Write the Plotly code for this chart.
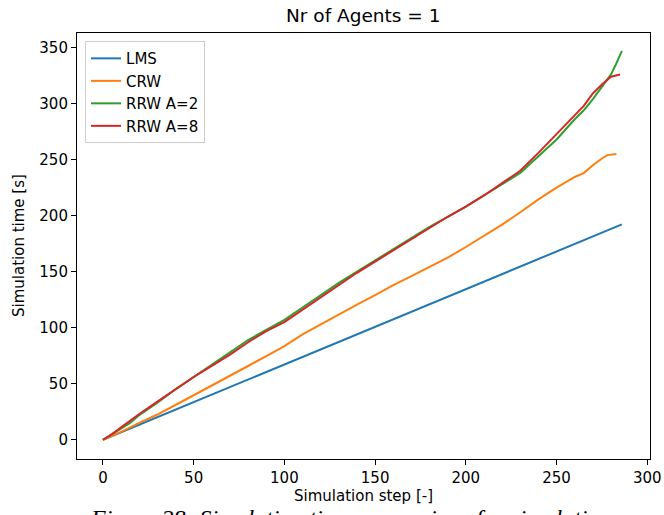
import plotly.graph_objects as go

# ---- data ----
lms_x = [0, 50, 100, 150, 200, 250, 286]
lms_y = [0, 33.6, 67.2, 100.8, 134.4, 168.0, 192.2]

crw_x = [0, 10, 20, 30, 40, 50, 60, 70, 80, 90, 100, 110, 120, 130, 140, 150, 160,
         170, 180, 190, 200, 210, 220, 230, 240, 250, 260, 265, 270, 275, 278, 283]
crw_y = [0, 7, 15, 22.5, 31, 39.6, 48.2, 56.7, 65.8, 74.7, 83.5, 94, 103, 112, 120.5,
         129, 138, 146, 154, 162.5, 172, 182, 192, 203, 214.5, 225, 234.5, 238, 245,
         251, 254, 255]

rrw2_x = [0, 5, 10, 15, 20, 30, 40, 50, 60, 70, 80, 90, 100, 110, 120, 130, 140, 150,
          160, 170, 180, 190, 200, 210, 220, 230, 240, 250, 260, 265, 270, 275, 278,
          280, 283, 285, 286]
rrw2_y = [0, 5, 10, 15, 22, 33, 45, 56, 67, 78, 89, 98, 107, 118, 129, 140, 150, 160,
          170, 180, 190, 199, 208, 218, 228, 238, 253, 268, 286, 294, 304, 315, 322,
          326, 336, 344, 347]

rrw8_x = [0, 5, 10, 15, 20, 30, 40, 50, 60, 70, 80, 90, 100, 110, 120, 130, 140, 150,
          160, 170, 180, 190, 200, 210, 220, 230, 240, 250, 260, 265, 270, 275, 280,
          283, 285]
rrw8_y = [0, 5, 11, 17, 23, 34, 45, 56, 66, 76, 87, 97, 105, 116, 127, 138, 149, 159,
          169, 179, 189, 199, 208, 218, 229, 240, 256, 273, 290, 298, 309, 317, 324,
          325.5, 326]

series = [
    ("LMS", lms_x, lms_y, "#1f77b4"),
    ("CRW", crw_x, crw_y, "#ff7f0e"),
    ("RRW A=2", rrw2_x, rrw2_y, "#2ca02c"),
    ("RRW A=8", rrw8_x, rrw8_y, "#d62728"),
]

FONT = "DejaVu Sans"
W, H = 664, 515
# plot area in page pixels: x 77..650, y 33..459
ML, MT = 77, 33
MR = W - 650
MB = H - 459
PW, PH = W - ML - MR, H - MT - MB

fig = go.Figure()
for name, xs, ys, col in series:
    fig.add_trace(go.Scatter(x=xs, y=ys, mode="lines", name=name,
                             line=dict(color=col, width=2)))

axis_common = dict(
    showgrid=False, zeroline=False, showline=True, linecolor="black", linewidth=1.1,
    mirror=True, ticks="outside", ticklen=5, tickwidth=1, tickcolor="black",
    tickfont=dict(family=FONT, size=15, color="black"), automargin=False,
)

fig.update_layout(
    width=W, height=H,
    margin=dict(l=ML, r=MR, t=MT, b=MB, autoexpand=False),
    paper_bgcolor="white", plot_bgcolor="white",
    xaxis=dict(range=[-14.3, 301.5], tickvals=[0, 50, 100, 150, 200, 250, 300],
               **axis_common),
    yaxis=dict(range=[-17.2, 363], tickvals=[0, 50, 100, 150, 200, 250, 300, 350],
               **axis_common),
    legend=dict(x=0.014, y=0.981, xanchor="left", yanchor="top",
                bgcolor="rgba(255,255,255,0.8)", bordercolor="#cccccc", borderwidth=1,
                font=dict(family=FONT, size=15, color="black"),
                itemwidth=30, tracegroupgap=0),
    showlegend=True,
)

def px_x(p):  # page pixel -> paper coordinate
    return (p - ML) / PW

def px_y(p):
    return 1 - (p - MT) / PH

# title
fig.add_annotation(text="Nr of Agents = 1", xref="paper", yref="paper",
                   x=px_x(363), y=px_y(15.5), xanchor="center", yanchor="middle",
                   showarrow=False, font=dict(family=FONT, size=18.5, color="black"))
# x-axis title
fig.add_annotation(text="Simulation step [-]", xref="paper", yref="paper",
                   x=px_x(363), y=px_y(496), xanchor="center", yanchor="middle",
                   showarrow=False, font=dict(family=FONT, size=15, color="black"))
# y-axis title
fig.add_annotation(text="Simulation time [s]", xref="paper", yref="paper",
                   x=px_x(19), y=px_y(246), xanchor="center", yanchor="middle",
                   textangle=-90, showarrow=False,
                   font=dict(family=FONT, size=15, color="black"))
# caption (cut off at the bottom edge, as in the reference)
fig.add_annotation(
    text="<i>Figure 28: Simulation time comparison for simulation</i>",
    xref="paper", yref="paper", x=px_x(350), y=px_y(503), xanchor="center",
    yanchor="top", showarrow=False,
    font=dict(family="Liberation Serif", size=24, color="black"),
)

# remove the default 8px page margin so the figure sits at the window's corner
fig.write_html("out.html", config={"displayModeBar": False},
               post_script="document.body.style.margin='0';")
